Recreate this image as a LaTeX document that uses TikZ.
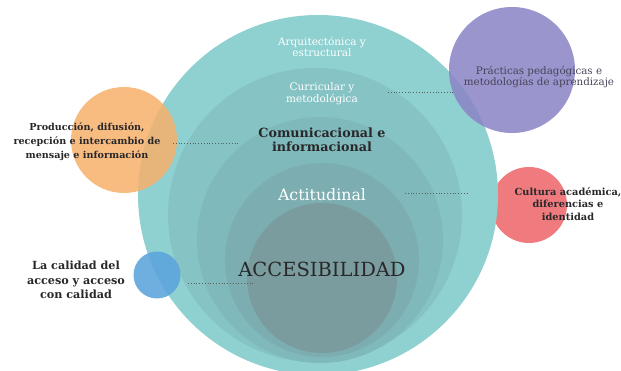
\documentclass[tikz,border=0pt]{standalone}
\usepackage{fontspec}
\setmainfont{DejaVu Serif}
\definecolor{ring1}{RGB}{143,209,209}
\definecolor{ring2}{RGB}{134,195,197}
\definecolor{ring3}{RGB}{128,185,187}
\definecolor{ring4}{RGB}{124,173,176}
\definecolor{ring5}{RGB}{122,156,159}
\definecolor{orangeb}{RGB}{247,176,107}
\definecolor{purpleb}{RGB}{140,134,198}
\definecolor{redb}{RGB}{239,123,127}
\definecolor{blueb}{RGB}{90,164,220}
\definecolor{ink}{RGB}{40,40,42}
\definecolor{inkp}{RGB}{70,68,88}
\begin{document}
\begin{tikzpicture}[x=1pt, y=-1pt,
    ring/.style={circle, inner sep=0pt},
    bubble/.style={circle, inner sep=0pt, fill opacity=0.88},
    lbl/.style={align=center, text=ink, inner sep=0pt},
    link/.style={dotted, thick, ink!75}]
  \useasboundingbox (0,0) rectangle (621,371);

  % Outer bubbles behind
  \node[ring, fill=redb, minimum size=76pt] (cultura) at (529,205) {};

  % Rings
  \node[ring, fill=ring1, minimum size=360pt] (arq) at (318,195) {};
  \node[ring, fill=ring2, minimum size=294pt] (curr) at (315,215) {};
  \node[ring, fill=ring3, minimum size=246pt] (comun) at (320,240) {};
  \node[ring, fill=ring4, minimum size=194pt] (acti) at (322,260) {};
  \node[ring, fill=ring5, minimum size=150pt] (acce) at (322,278) {};

  % Outer bubbles on top
  \node[bubble, fill=orangeb, fill opacity=0.85, minimum size=106pt] (prod) at (124,140) {};
  \node[bubble, fill=purpleb, minimum size=126pt] (prac) at (512,70) {};
  \node[bubble, fill=blueb, minimum size=47pt] (cali) at (157,275) {};

  % Ring labels
  \node[lbl, text=white, font=\fontsize{10.5}{10.5}\selectfont] (arqtxt) at (322,47) {Arquitectónica y\\estructural};
  \node[lbl, text=white, font=\fontsize{10.5}{10.5}\selectfont] (currtxt) at (322,94) {Curricular y\\metodológica};
  \node[lbl, font=\bfseries\fontsize{12.7}{14}\selectfont] (comuntxt) at (322,140) {Comunicacional e\\informacional};
  \node[lbl, text=white, font=\fontsize{15.8}{16}\selectfont] (actitxt) at (322,195) {Actitudinal};
  \node[lbl, font=\fontsize{19.5}{20}\selectfont] (accetxt) at (322,269) {ACCESIBILIDAD};

  % Bubble labels
  \node[lbl, font=\bfseries\fontsize{9.6}{14}\selectfont] (prodtxt) at (87,142) {Producción, difusión,\\recepción e intercambio de\\mensaje e información};
  \node[lbl, text=inkp, font=\fontsize{10.3}{11.5}\selectfont] (practxt) at (539,77) {Prácticas pedagógicas e\\metodologías de aprendizaje};
  \node[lbl, font=\bfseries\fontsize{9.8}{12.5}\selectfont] (culturatxt) at (568,204) {Cultura académica,\\diferencias e\\identidad};
  \node[lbl, font=\bfseries\fontsize{11.2}{14.5}\selectfont] (calitxt) at (76,280) {La calidad del\\acceso y acceso\\con calidad};

  % Links
  \coordinate (l1a) at (173,143);
  \coordinate (l1b) at (238,143);
  \coordinate (l2a) at (388,92);
  \coordinate (l2b) at (455,92);
  \coordinate (l3a) at (405,193);
  \coordinate (l3b) at (469,193);
  \coordinate (l4a) at (188,283);
  \coordinate (l4b) at (253,283);
  \draw[link] (l1a) -- (l1b);
  \draw[link] (l2a) -- (l2b);
  \draw[link] (l3a) -- (l3b);
  \draw[link] (l4a) -- (l4b);
\end{tikzpicture}
\end{document}
